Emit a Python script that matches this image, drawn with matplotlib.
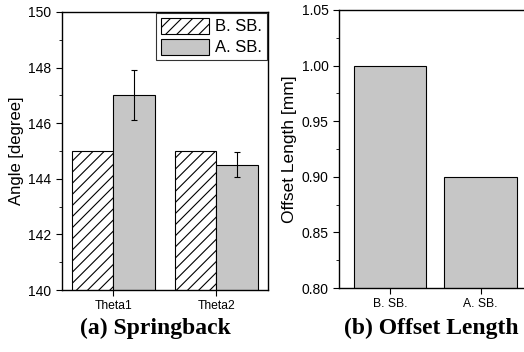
import numpy as np
import matplotlib
matplotlib.use("Agg")
import matplotlib.pyplot as plt
from matplotlib.ticker import MultipleLocator, FormatStrFormatter

plt.rcParams["font.family"] = "Liberation Sans"
plt.rcParams["hatch.linewidth"] = 0.8

# springback angles
angles = ["Theta1", "Theta2"]
before_sb = [145.0, 145.0]
after_sb = [147.0, 144.5]
after_err = [0.9, 0.45]

# offset length
cases = ["B. SB.", "A. SB."]
offset = [1.00, 0.90]

gray = "#c6c6c6"

fig = plt.figure(figsize=(5.24, 3.52), dpi=100)
ax1 = fig.add_axes([0.1183, 0.1761, 0.393, 0.790])
ax2 = fig.add_axes([0.647, 0.1818, 0.357, 0.790])

# (a) springback
x = np.arange(1, len(angles) + 1)
w = 0.4
ax1.bar(x - w / 2, before_sb, w, color="white", edgecolor="black",
        hatch="///", linewidth=0.8, label="B. SB.")
ax1.bar(x + w / 2, after_sb, w, color=gray, edgecolor="black",
        linewidth=0.8, label="A. SB.")
ax1.errorbar(x + w / 2, after_sb, yerr=after_err, fmt="none",
             ecolor="black", elinewidth=0.8, capsize=2, capthick=0.8)
ax1.set_ylim(140, 150)
ax1.set_xlim(0.5, 2.5)
ax1.set_xticks(x)
ax1.set_xticklabels(angles)
ax1.yaxis.set_major_locator(MultipleLocator(2))
ax1.yaxis.set_minor_locator(MultipleLocator(1))
ax1.set_ylabel("Angle [degree]", fontsize=12, labelpad=3)
leg = ax1.legend(loc="upper right", fontsize=12, frameon=True, fancybox=False,
                 edgecolor="black", handlelength=2.9, handleheight=1.1,
                 borderpad=0.3, labelspacing=0.25, handletextpad=0.35,
                 borderaxespad=0.05)
leg.get_frame().set_linewidth(0.8)

# (b) offset length
x2 = np.arange(1, len(cases) + 1)
ax2.bar(x2, offset, 0.8, color=gray, edgecolor="black", linewidth=0.8)
ax2.set_ylim(0.80, 1.05)
ax2.set_xlim(0.44, 2.5)
ax2.set_xticks(x2)
ax2.set_xticklabels(cases)
ax2.yaxis.set_major_locator(MultipleLocator(0.05))
ax2.yaxis.set_minor_locator(MultipleLocator(0.025))
ax2.yaxis.set_major_formatter(FormatStrFormatter("%.2f"))
ax2.set_ylabel("Offset Length [mm]", fontsize=12.5, labelpad=3)

for ax in (ax1, ax2):
    ax.tick_params(axis="both", which="major", direction="out", length=4,
                   width=0.8)
    ax.tick_params(axis="y", which="major", labelsize=10)
    ax.tick_params(axis="x", which="major", labelsize=8.7)
    ax.tick_params(axis="y", which="minor", direction="out", length=2,
                   width=0.6)
    for s in ax.spines.values():
        s.set_linewidth(1.0)

fig.text(0.296, 0.068, "(a) Springback", fontsize=17, fontweight="bold",
         family="Liberation Serif", ha="center", va="center")
fig.text(0.824, 0.068, "(b) Offset Length", fontsize=17, fontweight="bold",
         family="Liberation Serif", ha="center", va="center")

fig.savefig("out.png", dpi=100)
